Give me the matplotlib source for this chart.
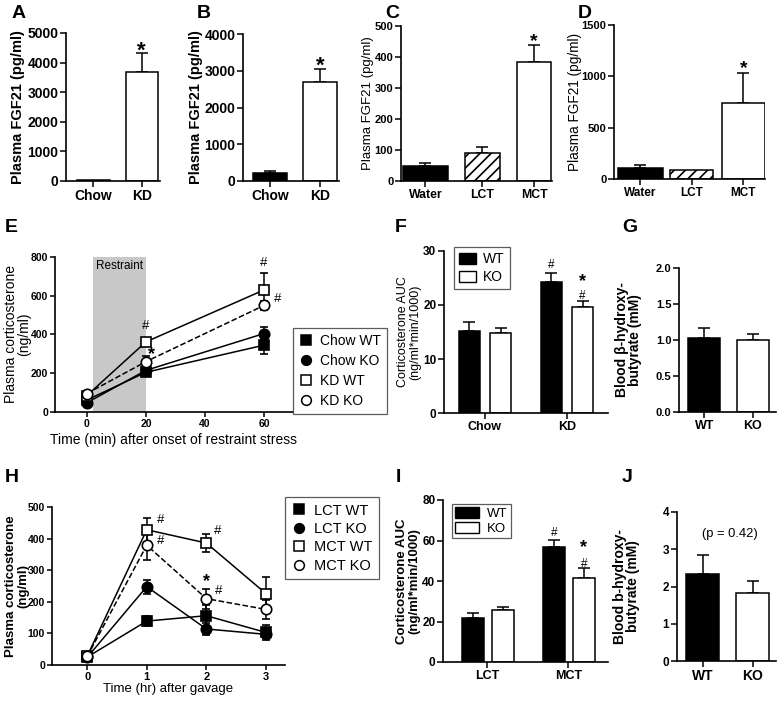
import matplotlib
matplotlib.use("Agg")
import matplotlib.pyplot as plt
from matplotlib.lines import Line2D
from matplotlib.patches import Patch

plt.rcParams["font.family"] = ["Liberation Sans", "DejaVu Sans"]
plt.rcParams["font.weight"] = "bold"
plt.rcParams["hatch.linewidth"] = 1.2

# ---- data ----
ab_groups = ["Chow", "KD"]
a_mean = [40, 3670]
a_err = [0, 655]
b_mean = [205, 2690]
b_err = [75, 365]

cd_groups = ["Water", "LCT", "MCT"]
c_mean = [47, 89, 384]
c_err = [12, 20, 55]
d_mean = [112, 86, 745]
d_err = [24, 0, 285]

e_time = [0, 20, 60]
e_series = ["Chow WT", "Chow KO", "KD WT", "KD KO"]
e_mean = [[62, 205, 345], [48, 215, 405], [85, 362, 630], [95, 260, 550]]
e_err = [[10, 12, 45], [10, 12, 32], [10, 15, 85], [10, 30, 25]]

f_groups = ["Chow", "KD"]
f_wt = [15.1, 24.2]
f_wt_err = [1.7, 1.8]
f_ko = [14.9, 19.7]
f_ko_err = [0.9, 1.05]

g_groups = ["WT", "KO"]
g_mean = [1.03, 1.0]
g_err = [0.14, 0.08]

h_time = [0, 1, 2, 3]
h_series = ["LCT WT", "LCT KO", "MCT WT", "MCT KO"]
h_mean = [[25, 139, 156, 103], [24, 248, 114, 97], [28, 428, 386, 226], [27, 379, 210, 176]]
h_err = [[5, 15, 35, 25], [5, 22, 20, 12], [5, 38, 28, 54], [5, 47, 32, 30]]

i_groups = ["LCT", "MCT"]
i_wt = [21.9, 56.6]
i_wt_err = [2.4, 3.6]
i_ko = [25.6, 41.6]
i_ko_err = [1.6, 4.6]

j_groups = ["WT", "KO"]
j_mean = [2.34, 1.83]
j_err = [0.51, 0.31]

W, H = 778, 702
fig = plt.figure(figsize=(W / 100, H / 100), dpi=100)


def px_axes(l, t, r, b):
    ax = fig.add_axes([l / W, 1 - b / H, (r - l) / W, (b - t) / H])
    ax._px = (l, r)
    return ax


def style(ax, fs, xfs=None):
    for s in ["top", "right"]:
        ax.spines[s].set_visible(False)
    for s in ["left", "bottom"]:
        ax.spines[s].set_linewidth(1.2)
    ax.tick_params(labelsize=fs, width=1.1, length=4, pad=1.5)
    if xfs:
        ax.tick_params(axis="x", labelsize=xfs)


def ylab(ax, text, right_px, fs, weight="bold", ls=1.0):
    # right_px: where the right edge of the (rotated) label sits, in figure pixels
    l, r = ax._px
    ax.set_ylabel(text, fontsize=fs, fontweight=weight, linespacing=ls)
    ax.yaxis.set_label_coords((right_px - l) / (r - l), 0.5)


def bars(ax, x, mean, err, colors, width, hatches=None):
    for k in range(len(mean)):
        ax.bar(x[k], mean[k], width=width[k] if hasattr(width, "__len__") else width,
               color=colors[k], edgecolor="black", linewidth=1.1,
               hatch=None if hatches is None else hatches[k], zorder=2)
        if err[k] > 0:
            ax.errorbar(x[k], mean[k], yerr=[[0], [err[k]]], fmt="none",
                        ecolor="black", elinewidth=1.1, capsize=4, capthick=1.1, zorder=1)


def star(ax, x, y, txt="*", fs=14, dy=0, dx=0, weight="bold"):
    ax.annotate(txt, (x, y), xytext=(dx, dy), textcoords="offset points",
                ha="center", va="bottom", fontsize=fs, fontweight=weight)


def boxed(leg):
    leg.get_frame().set_linewidth(0.9)
    leg.get_frame().set_edgecolor("#333333")


# ---- A ----
ax = px_axes(66, 33, 160, 181)
style(ax, 10)
bars(ax, [0, 1], a_mean, a_err, ["black", "white"], 0.67)
ax.set_xlim(-0.57, 1.38)
ax.set_ylim(0, 5000)
ax.set_yticks(range(0, 5001, 1000))
ax.set_xticks([0, 1], ab_groups)
ylab(ax, "Plasma FGF21 (pg/ml)", 25, 10.5)
star(ax, 1, a_mean[1] + a_err[1], fs=16, dy=-6)

# ---- B ----
ax = px_axes(243, 34, 339, 181)
style(ax, 10)
bars(ax, [0, 1], b_mean, b_err, ["black", "white"], 0.68)
ax.set_xlim(-0.54, 1.38)
ax.set_ylim(0, 4000)
ax.set_yticks(range(0, 4001, 1000))
ax.set_xticks([0, 1], ab_groups)
ylab(ax, "Plasma FGF21 (pg/ml)", 203, 10.5)
star(ax, 1, b_mean[1] + b_err[1], fs=16, dy=-6)

# ---- C ----
ax = px_axes(401, 26, 552, 181)
style(ax, 8, 8.8)
bars(ax, [0, 1.05, 2.0], c_mean, c_err, ["black", "white", "white"],
     [0.83, 0.63, 0.63], hatches=[None, "///", None])
ax.set_xlim(-0.45, 2.33)
ax.set_ylim(0, 500)
ax.set_yticks(range(0, 501, 100))
ax.set_xticks([0, 1.05, 2.0], cd_groups)
ylab(ax, "Plasma FGF21 (pg/ml)", 374, 9.5, weight="normal")
star(ax, 2, c_mean[2] + c_err[2], fs=14, dy=-4)

# ---- D ----
ax = px_axes(614, 25, 765, 179)
style(ax, 8, 8.5)
bars(ax, [0, 1, 2], d_mean, d_err, ["black", "white", "white"],
     [0.87, 0.83, 0.83], hatches=[None, "///", None])
ax.set_xlim(-0.51, 2.42)
ax.set_ylim(0, 1500)
ax.set_yticks(range(0, 1501, 500))
ax.set_xticks([0, 1, 2], cd_groups)
ylab(ax, "Plasma FGF21 (pg/ml)", 582, 9.8, weight="normal")
star(ax, 2, d_mean[2] + d_err[2], fs=14, dy=-3)

# ---- E ----
markers = [("s", "black", "-"), ("o", "black", "-"), ("s", "white", "-"), ("o", "white", "--")]
ax = px_axes(55, 257, 293, 412)
style(ax, 7.5)
ax.tick_params(length=3.5)
ax.axvspan(2, 20, color="#c8c8c8", zorder=0, lw=0)
ax.text(11, 752, "Restraint", ha="center", va="center", fontsize=8.5, fontweight="normal")
for k in range(4):
    m, fc, ls = markers[k]
    ax.errorbar(e_time, e_mean[k], yerr=e_err[k], fmt=m, ls=ls, color="black",
                mfc=fc, mec="black", ms=7.5, mew=1.2, lw=1.1, capsize=3, elinewidth=1.1,
                zorder=3)
ax.set_xlim(-10.8, 69.8)
ax.set_ylim(0, 800)
ax.set_xticks([0, 20, 40, 60])
ax.set_yticks(range(0, 801, 200))
ax.set_xlabel("Time (min) after onset of restraint stress", fontsize=10, labelpad=3)
ylab(ax, "Plasma corticosterone\n(ng/ml)", 31, 10, weight="normal", ls=0.95)
star(ax, 20, e_mean[2][1] + e_err[2][1], "#", fs=9.5, dy=5, weight="normal")
star(ax, 20, e_mean[3][1], "*", fs=13, dx=4, dy=-1)
star(ax, 60, e_mean[2][2] + e_err[2][2], "#", fs=9.5, dy=3, weight="normal")
star(ax, 60, e_mean[3][2], "#", fs=9.5, dx=10, dy=0, weight="normal")
handles = [Line2D([], [], ls="none", marker=markers[k][0], mfc=markers[k][1], mec="black",
                  ms=7, mew=1.1) for k in range(4)]
boxed(fig.legend(handles, e_series, loc="upper left", bbox_to_anchor=(293 / W, 1 - 328 / H),
                 borderaxespad=0, fancybox=False,
                 handlelength=1.0, handletextpad=0.5, borderpad=0.45, labelspacing=0.42,
                 prop={"weight": "normal", "size": 10}))

# ---- F ----
ax = px_axes(444, 251, 608, 413)
style(ax, 8.5, 9)
xf = [0, 1]
bars(ax, [x - 0.19 for x in xf], f_wt, f_wt_err, ["black"] * 2, 0.26)
bars(ax, [x + 0.19 for x in xf], f_ko, f_ko_err, ["white"] * 2, 0.26)
ax.set_xlim(-0.5, 1.5)
ax.set_ylim(0, 30)
ax.set_yticks([0, 10, 20, 30])
ax.set_xticks(xf, f_groups)
ylab(ax, "Corticosterone AUC\n(ng/ml*min/1000)", 421, 9, weight="normal", ls=0.95)
star(ax, 0.81, f_wt[1] + f_wt_err[1], "#", fs=8.5, dy=1, weight="normal")
star(ax, 1.19, f_ko[1] + f_ko_err[1], "#", fs=8.5, dy=-1, weight="normal")
star(ax, 1.19, f_ko[1] + f_ko_err[1], "*", fs=13, dy=8)
boxed(fig.legend([Patch(fc="black", ec="black"), Patch(fc="white", ec="black")], ["WT", "KO"],
                 loc="upper left", bbox_to_anchor=(454 / W, 1 - 247 / H), fancybox=False,
                 borderaxespad=0, handlelength=1.25, handleheight=0.85, handletextpad=0.5,
                 borderpad=0.35, labelspacing=0.3, prop={"weight": "normal", "size": 10}))

# ---- G ----
ax = px_axes(679, 268, 776, 412)
style(ax, 8, 9)
bars(ax, [0, 1], g_mean, g_err, ["black", "white"], 0.66)
ax.set_xlim(-0.52, 1.48)
ax.set_ylim(0, 2)
ax.set_yticks([0, 0.5, 1.0, 1.5, 2.0], ["0.0", "0.5", "1.0", "1.5", "2.0"])
ax.set_xticks([0, 1], g_groups)
ylab(ax, "Blood β-hydroxy-\nbutyrate (mM)", 642, 10, ls=0.9)

# ---- H ----
ax = px_axes(52, 507, 285, 665)
style(ax, 7.5, 8)
ax.tick_params(length=3.5)
hm = [("s", "black", "-"), ("o", "black", "-"), ("s", "white", "-"), ("o", "white", "--")]
for k in range(4):
    m, fc, ls = hm[k]
    ax.errorbar(h_time, h_mean[k], yerr=h_err[k], fmt=m, ls=ls, color="black",
                mfc=fc, mec="black", ms=7.5, mew=1.2, lw=1.1, capsize=3, elinewidth=1.1,
                zorder=3)
ax.set_xlim(-0.59, 3.32)
ax.set_ylim(0, 500)
ax.set_xticks(h_time)
ax.set_yticks(range(0, 501, 100))
ax.set_xlabel("Time (hr) after gavage", fontsize=9.5, fontweight="normal", labelpad=1)
ylab(ax, "Plasma corticosterone\n(ng/ml)", 29, 9.5, ls=0.95)
star(ax, 1, h_mean[2][1], "#", fs=9.5, dx=10, dy=3, weight="normal")
star(ax, 1, h_mean[3][1], "#", fs=9.5, dx=10, dy=-1, weight="normal")
star(ax, 2, h_mean[2][2], "#", fs=9.5, dx=8, dy=4, weight="normal")
star(ax, 2, h_mean[3][2] + h_err[3][2], "*", fs=13, dy=-1)
star(ax, 2, h_mean[3][2], "#", fs=9.5, dx=9, dy=1, weight="normal")
handles = [Line2D([], [], ls="none", marker=hm[k][0], mfc=hm[k][1], mec="black",
                  ms=7, mew=1.1) for k in range(4)]
boxed(fig.legend(handles, h_series, loc="upper left", bbox_to_anchor=(285 / W, 1 - 497 / H),
                 borderaxespad=0, fancybox=False,
                 handlelength=1.0, handletextpad=0.55, borderpad=0.45, labelspacing=0.3,
                 prop={"weight": "normal", "size": 10.5}))

# ---- I ----
ax = px_axes(443, 500, 608, 662)
style(ax, 8.5, 9)
xi = [0, 1]
bars(ax, [x - 0.18 for x in xi], i_wt, i_wt_err, ["black"] * 2, 0.27)
bars(ax, [x + 0.19 for x in xi], i_ko, i_ko_err, ["white"] * 2, 0.27)
ax.set_xlim(-0.55, 1.49)
ax.set_ylim(0, 80)
ax.set_yticks(range(0, 81, 20))
ax.set_xticks(xi, i_groups)
ylab(ax, "Corticosterone AUC\n(ng/ml*min/1000)", 420, 9.5, ls=0.95)
star(ax, 0.82, i_wt[1] + i_wt_err[1], "#", fs=8.5, dy=1, weight="normal")
star(ax, 1.19, i_ko[1] + i_ko_err[1], "#", fs=8.5, dy=-1, weight="normal")
star(ax, 1.19, i_ko[1] + i_ko_err[1], "*", fs=13, dy=9)
boxed(fig.legend([Patch(fc="black", ec="black"), Patch(fc="white", ec="black")], ["WT", "KO"],
                 loc="upper left", bbox_to_anchor=(452 / W, 1 - 504 / H), fancybox=False,
                 borderaxespad=0, handlelength=1.8, handleheight=0.85, handletextpad=0.6,
                 borderpad=0.25, labelspacing=0.15, prop={"weight": "normal", "size": 9.5}))

# ---- J ----
ax = px_axes(677, 512, 776, 661)
style(ax, 8.5, 10)
bars(ax, [0, 1], j_mean, j_err, ["black", "white"], 0.66)
ax.set_xlim(-0.51, 1.47)
ax.set_ylim(0, 4)
ax.set_yticks([0, 1, 2, 3, 4])
ax.set_xticks([0, 1], j_groups)
ylab(ax, "Blood b-hydroxy-\nbutyrate (mM)", 640, 10, ls=0.9)
ax.text(0.55, 3.4, "(p = 0.42)", ha="center", va="center", fontsize=9.3, fontweight="normal")

# ---- panel letters ----
for lab, x, y in [("A", 12, 14), ("B", 197, 14), ("C", 385, 14), ("D", 578, 14),
                  ("E", 5, 227), ("F", 395, 227), ("G", 622, 228),
                  ("H", 5, 478), ("I", 396, 478), ("J", 622, 478)]:
    fig.text(x / W, 1 - y / H, lab, fontsize=14, fontweight="bold", va="center", ha="left")

fig.savefig("out.png", dpi=100)
